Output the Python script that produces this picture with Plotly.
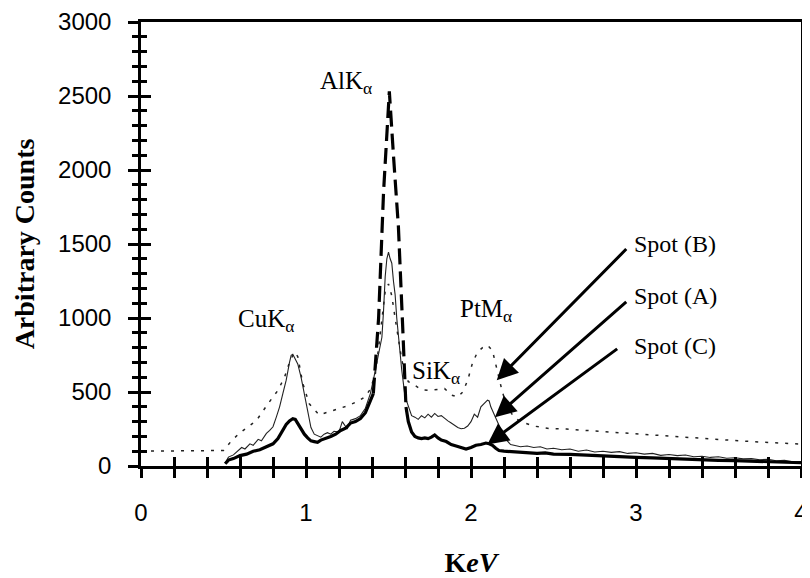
import plotly.graph_objects as go

# ---------------- data ----------------
# Spot (B): dotted thin line
spotB_x = [0, 0.1, 0.2, 0.3, 0.4, 0.48, 0.5, 0.55, 0.6, 0.66, 0.7, 0.77, 0.83, 0.87, 0.9, 0.93, 0.95,
           0.98, 1.02, 1.08, 1.14, 1.2, 1.26, 1.32, 1.36, 1.39, 1.42, 1.44, 1.46, 1.48, 1.5, 1.52, 1.54,
           1.56, 1.58, 1.6, 1.62, 1.66, 1.7, 1.75, 1.8, 1.84, 1.88, 1.92, 1.95, 1.98, 2.01, 2.04, 2.07,
           2.1, 2.13, 2.16, 2.19, 2.22, 2.26, 2.3, 2.38, 2.48, 2.58, 2.7, 2.8, 2.9, 3.0, 3.1, 3.2, 3.3,
           3.4, 3.5, 3.6, 3.7, 3.8, 3.9, 4.0]
spotB_y = [100, 100, 100, 100, 100, 100, 105, 172, 225, 274, 308, 421, 511, 601, 700, 770, 740,
           560, 420, 345, 365, 390, 410, 440, 470, 520, 620, 800, 1000, 1180, 1230, 1150, 1000,
           850, 720, 620, 570, 545, 515, 511, 515, 523, 480, 466, 500, 579, 700, 770, 800,
           816, 780, 650, 500, 400, 330, 300, 270, 252, 250, 240, 232, 225, 215, 208, 200, 192,
           185, 178, 172, 165, 158, 152, 148]

# Spot (A): thin solid line
spotA_x = [0.51, 0.53, 0.56, 0.58, 0.61, 0.63, 0.66, 0.68, 0.71, 0.73, 0.76, 0.78, 0.8, 0.82, 0.84,
           0.86, 0.88, 0.9, 0.91, 0.92, 0.93, 0.95, 0.97, 0.99, 1.01, 1.03, 1.05, 1.07, 1.09, 1.11,
           1.13, 1.15, 1.17, 1.2, 1.22, 1.25, 1.27, 1.3, 1.33, 1.36, 1.39, 1.41, 1.43, 1.45, 1.46,
           1.47, 1.48, 1.49, 1.5, 1.51, 1.52, 1.53, 1.54, 1.55, 1.56, 1.58, 1.6, 1.62, 1.64, 1.66,
           1.68, 1.7, 1.72, 1.74, 1.76, 1.78, 1.8, 1.82, 1.84, 1.86, 1.88, 1.9, 1.92, 1.94, 1.96,
           1.98, 2.0, 2.02, 2.04, 2.06, 2.08, 2.1, 2.11, 2.12, 2.14, 2.16, 2.18, 2.2, 2.22, 2.24,
           2.26, 2.3, 2.34, 2.38, 2.42, 2.46, 2.5, 2.55, 2.6, 2.65, 2.7, 2.75, 2.8, 2.85, 2.9, 2.95,
           3.0, 3.05, 3.1, 3.15, 3.2, 3.25, 3.3, 3.35, 3.4, 3.45, 3.5, 3.55, 3.6, 3.65, 3.7, 3.75,
           3.8, 3.85, 3.9, 3.95, 4.0]
spotA_y = [20, 60, 75, 95, 125, 115, 150, 140, 180, 170, 220, 240, 265, 330, 400,
           490, 580, 700, 748, 755, 730, 690, 600, 480, 370, 260, 215, 205, 195, 215,
           225, 215, 235, 230, 300, 250, 310, 320, 340, 390, 489, 590, 700, 800, 870,
           1050, 1280, 1400, 1445, 1400, 1370, 1250, 1160, 1000, 870, 650, 470, 398, 340, 330,
           315, 340, 325, 350, 330, 355, 335, 340, 320, 305, 290, 275, 260, 252, 255,
           270, 300, 350, 330, 400, 420, 445, 440, 400, 350, 300, 250, 200, 170, 145,
           140, 130, 135, 125, 130, 115, 120, 110, 115, 100, 108, 95, 100, 92, 97, 85,
           90, 80, 85, 72, 78, 70, 74, 62, 66, 58, 62, 52, 56, 48, 50, 42,
           45, 35, 38, 28, 30]

# Spot (C): thick solid line (gap where the AlK peak is drawn dashed)
spotC_x = [0.51, 0.53, 0.56, 0.6, 0.64, 0.68, 0.72, 0.76, 0.8, 0.83, 0.86, 0.88, 0.9, 0.92, 0.935,
           0.95, 0.97, 0.99, 1.01, 1.03, 1.05, 1.07, 1.09, 1.12, 1.15, 1.18, 1.21, 1.24, 1.27, 1.3,
           1.33, 1.36, 1.38, 1.408, None, 1.606, 1.62, 1.64, 1.66, 1.68, 1.7, 1.72, 1.74, 1.76, 1.78,
           1.8, 1.82, 1.85, 1.88, 1.91, 1.94, 1.97, 2.0, 2.03, 2.06, 2.09, 2.11, 2.13, 2.15, 2.17,
           2.2, 2.25, 2.3, 2.35, 2.4, 2.45, 2.5, 2.6, 2.7, 2.8, 2.9, 3.0, 3.1, 3.2, 3.3, 3.4, 3.5,
           3.6, 3.7, 3.8, 3.9, 4.0]
spotC_y = [15, 40, 50, 70, 80, 100, 110, 130, 150, 185, 240, 280, 305, 320, 315,
           285, 245, 215, 190, 170, 165, 160, 175, 185, 200, 215, 240, 255, 290, 300,
           320, 360, 410, 489, None, 398, 300, 230, 200, 190, 185, 190, 185, 195, 210,
           190, 175, 165, 145, 135, 125, 115, 125, 140, 145, 155, 150, 140, 120, 105,
           100, 95, 92, 90, 85, 88, 80, 78, 72, 68, 62, 58, 55, 50, 45, 42, 38,
           36, 33, 30, 26, 22]

# Spot (C) AlK peak, drawn with long dashes
peak_x = [1.408, 1.44, 1.47, 1.505, 1.53, 1.56, 1.586, 1.606]
peak_y = [489, 1000, 1850, 2531, 2100, 1617, 940, 398]

# peak labels
peak_labels = ["CuK<sub>α</sub>", "AlK<sub>α</sub>", "SiK<sub>α</sub>", "PtM<sub>α</sub>"]
peak_label_x = [0.76, 1.245, 1.785, 2.09]
peak_label_y = [985, 2590, 633, 1053]

# spot labels and arrows
spot_labels = ["Spot (B)", "Spot (A)", "Spot (C)"]
spot_label_x = [2.975, 2.975, 2.975]
spot_label_y = [1503, 1151, 809]
arrow_tail_x = [2.95, 2.95, 2.895]
arrow_tail_y = [1476, 1117, 799]
arrow_head_x = [2.156, 2.145, 2.099]
arrow_head_y = [579, 330, 146]

x_range = [0, 4]
y_range = [0, 3000]

# ---------------- figure ----------------
SERIF = "Liberation Serif"
SANS = "Liberation Sans"

fig = go.Figure()
fig.add_trace(go.Scatter(x=spotB_x, y=spotB_y, mode="lines", name="Spot (B)",
                         line=dict(color="#222", width=1.5, dash="3px,7px")))
fig.add_trace(go.Scatter(x=spotA_x, y=spotA_y, mode="lines", name="Spot (A)",
                         line=dict(color="#222", width=1.1)))
fig.add_trace(go.Scatter(x=spotC_x, y=spotC_y, mode="lines", name="Spot (C)",
                         connectgaps=False, line=dict(color="black", width=3.2)))
fig.add_trace(go.Scatter(x=peak_x, y=peak_y, mode="lines", name="Spot (C) peak",
                         line=dict(color="black", width=3.2, dash="16px,7px")))
# empty trace to create overlay axes (inner half of crossing ticks)
fig.add_trace(go.Scatter(x=[None], y=[None], xaxis="x2", yaxis="y2", mode="lines",
                         hoverinfo="skip", showlegend=False))

for t, x, y in zip(peak_labels, peak_label_x, peak_label_y):
    fig.add_annotation(x=x, y=y, text=t, showarrow=False,
                       font=dict(family=SERIF, size=25, color="black"))

for t, x, y in zip(spot_labels, spot_label_x, spot_label_y):
    fig.add_annotation(x=x, y=y, text=t, showarrow=False, xanchor="left",
                       font=dict(family=SERIF, size=24, color="black"))

for tx, ty, hx, hy in zip(arrow_tail_x, arrow_tail_y, arrow_head_x, arrow_head_y):
    fig.add_annotation(x=hx, y=hy, ax=tx, ay=ty, axref="x", ayref="y", text="",
                       showarrow=True, arrowhead=2, arrowsize=1.4, arrowwidth=3,
                       arrowcolor="black")

tick_common = dict(tickcolor="black", tickwidth=2.5, showgrid=False, zeroline=False,
                   automargin=False)

# the page body adds an 8px margin, so the figure is 8px smaller on each side
fig.update_layout(
    width=802, height=570,
    margin=dict(l=133, r=9, t=14, b=112),
    paper_bgcolor="white", plot_bgcolor="white",
    showlegend=False,
    xaxis=dict(range=x_range, dtick=1, ticks="outside", ticklen=9,
               minor=dict(dtick=0.2, ticks="outside", ticklen=9, tickwidth=2.5, tickcolor="black"),
               showline=True, linewidth=2.5, linecolor="black", mirror=True,
               tickfont=dict(family=SANS, size=24, color="black"), ticklabelstandoff=14,
               ticklabeloverflow="allow",
               title=dict(text="<b>K<i>eV</i></b>", font=dict(family=SERIF, size=28, color="black"),
                          standoff=29),
               **tick_common),
    yaxis=dict(range=y_range, dtick=500, ticks="outside", ticklen=10,
               minor=dict(dtick=100, ticks="outside", ticklen=6, tickwidth=2.5, tickcolor="black"),
               showline=True, linewidth=2.5, linecolor="black", mirror=True,
               tickfont=dict(family=SANS, size=24, color="black"), ticklabelstandoff=12,
               ticklabeloverflow="allow",
               title=dict(text="<b>Arbitrary Counts</b>", font=dict(family=SERIF, size=28, color="black"),
                          standoff=16),
               **tick_common),
    xaxis2=dict(range=x_range, dtick=1, overlaying="x", anchor="y2", side="bottom",
                ticks="inside", ticklen=9, showticklabels=False, showline=False,
                minor=dict(dtick=0.2, ticks="inside", ticklen=9, tickwidth=2.5, tickcolor="black"),
                **tick_common),
    yaxis2=dict(range=y_range, dtick=500, overlaying="y", anchor="x2", side="left",
                ticks="inside", ticklen=10, showticklabels=False, showline=False,
                minor=dict(dtick=100, ticks="inside", ticklen=6, tickwidth=2.5, tickcolor="black"),
                **tick_common),
)

fig.write_html("out.html")
